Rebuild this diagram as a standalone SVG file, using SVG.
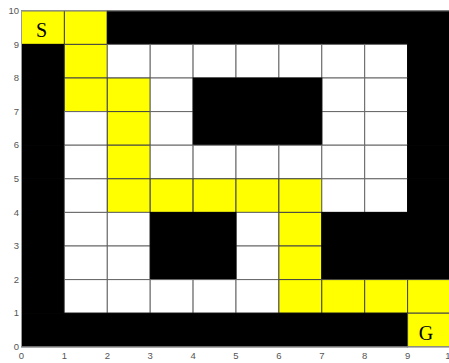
<svg xmlns="http://www.w3.org/2000/svg" width="449" height="363" viewBox="0 0 449 363">
<style>
.w{fill:#ffffff;stroke:#666666;stroke-width:1}
.y{fill:#ffff00;stroke:#444444;stroke-width:1}
.b{fill:#000000;stroke:#000000;stroke-width:1}
.ax{stroke:#999999;stroke-width:1;fill:none}
.tl{font-family:"Liberation Sans",Arial,sans-serif;font-size:9.5px;fill:#555555}
.mk{font-family:"Liberation Serif","Times New Roman",serif;font-size:20px;fill:#000000;text-anchor:middle}
</style>
<rect x="0" y="0" width="449" height="363" fill="#ffffff"/>
<g id="grid">
<!-- r0 y9 -->
<rect class="y" x="21.5" y="10.8" width="42.9" height="33.6"/>
<rect class="y" x="64.4" y="10.8" width="42.9" height="33.6"/>
<rect class="b" x="107.3" y="10.8" width="343.2" height="33.6"/>
<!-- r1 y8 -->
<rect class="b" x="21.5" y="44.4" width="42.9" height="33.6"/>
<rect class="y" x="64.4" y="44.4" width="42.9" height="33.6"/>
<rect class="w" x="107.3" y="44.4" width="42.9" height="33.6"/>
<rect class="w" x="150.2" y="44.4" width="42.9" height="33.6"/>
<rect class="w" x="193.1" y="44.4" width="42.9" height="33.6"/>
<rect class="w" x="236" y="44.4" width="42.9" height="33.6"/>
<rect class="w" x="278.9" y="44.4" width="42.9" height="33.6"/>
<rect class="w" x="321.8" y="44.4" width="42.9" height="33.6"/>
<rect class="w" x="364.7" y="44.4" width="42.9" height="33.6"/>
<rect class="b" x="407.6" y="44.4" width="42.9" height="33.6"/>
<!-- r2 y7 -->
<rect class="b" x="21.5" y="78" width="42.9" height="33.6"/>
<rect class="y" x="64.4" y="78" width="42.9" height="33.6"/>
<rect class="y" x="107.3" y="78" width="42.9" height="33.6"/>
<rect class="w" x="150.2" y="78" width="42.9" height="33.6"/>
<rect class="w" x="321.8" y="78" width="42.9" height="33.6"/>
<rect class="w" x="364.7" y="78" width="42.9" height="33.6"/>
<rect class="b" x="407.6" y="78" width="42.9" height="33.6"/>
<!-- r3 y6 -->
<rect class="b" x="21.5" y="111.6" width="42.9" height="33.6"/>
<rect class="w" x="64.4" y="111.6" width="42.9" height="33.6"/>
<rect class="y" x="107.3" y="111.6" width="42.9" height="33.6"/>
<rect class="w" x="150.2" y="111.6" width="42.9" height="33.6"/>
<rect class="w" x="321.8" y="111.6" width="42.9" height="33.6"/>
<rect class="w" x="364.7" y="111.6" width="42.9" height="33.6"/>
<rect class="b" x="407.6" y="111.6" width="42.9" height="33.6"/>
<!-- black block x4-7 y6-8 -->
<rect class="b" x="193.1" y="78" width="128.7" height="67.2"/>
<!-- r4 y5 -->
<rect class="b" x="21.5" y="145.2" width="42.9" height="33.6"/>
<rect class="w" x="64.4" y="145.2" width="42.9" height="33.6"/>
<rect class="y" x="107.3" y="145.2" width="42.9" height="33.6"/>
<rect class="w" x="150.2" y="145.2" width="42.9" height="33.6"/>
<rect class="w" x="193.1" y="145.2" width="42.9" height="33.6"/>
<rect class="w" x="236" y="145.2" width="42.9" height="33.6"/>
<rect class="w" x="278.9" y="145.2" width="42.9" height="33.6"/>
<rect class="w" x="321.8" y="145.2" width="42.9" height="33.6"/>
<rect class="w" x="364.7" y="145.2" width="42.9" height="33.6"/>
<rect class="b" x="407.6" y="145.2" width="42.9" height="33.6"/>
<!-- r5 y4 -->
<rect class="b" x="21.5" y="178.8" width="42.9" height="33.6"/>
<rect class="w" x="64.4" y="178.8" width="42.9" height="33.6"/>
<rect class="y" x="107.3" y="178.8" width="42.9" height="33.6"/>
<rect class="y" x="150.2" y="178.8" width="42.9" height="33.6"/>
<rect class="y" x="193.1" y="178.8" width="42.9" height="33.6"/>
<rect class="y" x="236" y="178.8" width="42.9" height="33.6"/>
<rect class="y" x="278.9" y="178.8" width="42.9" height="33.6"/>
<rect class="w" x="321.8" y="178.8" width="42.9" height="33.6"/>
<rect class="w" x="364.7" y="178.8" width="42.9" height="33.6"/>
<rect class="b" x="407.6" y="178.8" width="42.9" height="33.6"/>
<!-- r6 y3 -->
<rect class="b" x="21.5" y="212.4" width="42.9" height="33.6"/>
<rect class="w" x="64.4" y="212.4" width="42.9" height="33.6"/>
<rect class="w" x="107.3" y="212.4" width="42.9" height="33.6"/>
<rect class="w" x="236" y="212.4" width="42.9" height="33.6"/>
<rect class="y" x="278.9" y="212.4" width="42.9" height="33.6"/>
<!-- r7 y2 -->
<rect class="b" x="21.5" y="246" width="42.9" height="33.6"/>
<rect class="w" x="64.4" y="246" width="42.9" height="33.6"/>
<rect class="w" x="107.3" y="246" width="42.9" height="33.6"/>
<rect class="w" x="236" y="246" width="42.9" height="33.6"/>
<rect class="y" x="278.9" y="246" width="42.9" height="33.6"/>
<!-- black blocks y2-4 -->
<rect class="b" x="150.2" y="212.4" width="85.8" height="67.2"/>
<rect class="b" x="321.8" y="212.4" width="128.7" height="67.2"/>
<!-- r8 y1 -->
<rect class="b" x="21.5" y="279.6" width="42.9" height="33.6"/>
<rect class="w" x="64.4" y="279.6" width="42.9" height="33.6"/>
<rect class="w" x="107.3" y="279.6" width="42.9" height="33.6"/>
<rect class="w" x="150.2" y="279.6" width="42.9" height="33.6"/>
<rect class="w" x="193.1" y="279.6" width="42.9" height="33.6"/>
<rect class="w" x="236" y="279.6" width="42.9" height="33.6"/>
<rect class="y" x="278.9" y="279.6" width="42.9" height="33.6"/>
<rect class="y" x="321.8" y="279.6" width="42.9" height="33.6"/>
<rect class="y" x="364.7" y="279.6" width="42.9" height="33.6"/>
<rect class="y" x="407.6" y="279.6" width="42.9" height="33.6"/>
<!-- r9 y0 -->
<rect class="b" x="21.5" y="313.2" width="386.1" height="33.6"/>
<rect class="y" x="407.6" y="313.2" width="42.9" height="33.6"/>
</g>
<g id="axes">
<path class="ax" d="M21.5,10.8 H450 M21.5,10.8 V346.8 H450"/>
<g class="tl" text-anchor="end">
<text x="19" y="14">10</text>
<text x="19" y="47.5">9</text>
<text x="19" y="81">8</text>
<text x="19" y="114.5">7</text>
<text x="19" y="148">6</text>
<text x="19" y="182">5</text>
<text x="19" y="215.5">4</text>
<text x="19" y="249">3</text>
<text x="19" y="282.5">2</text>
<text x="19" y="316">1</text>
<text x="19" y="350">0</text>
</g>
<g class="tl" text-anchor="middle">
<text x="21.5" y="359">0</text>
<text x="64.4" y="359">1</text>
<text x="107.3" y="359">2</text>
<text x="150.2" y="359">3</text>
<text x="193.1" y="359">4</text>
<text x="236" y="359">5</text>
<text x="278.9" y="359">6</text>
<text x="321.8" y="359">7</text>
<text x="364.7" y="359">8</text>
<text x="407.6" y="359">9</text>
<text x="450.5" y="359">10</text>
</g>
</g>
<g id="start"><text class="mk" x="41.5" y="37">S</text></g>
<g id="goal"><text class="mk" x="426" y="340">G</text></g>
</svg>
